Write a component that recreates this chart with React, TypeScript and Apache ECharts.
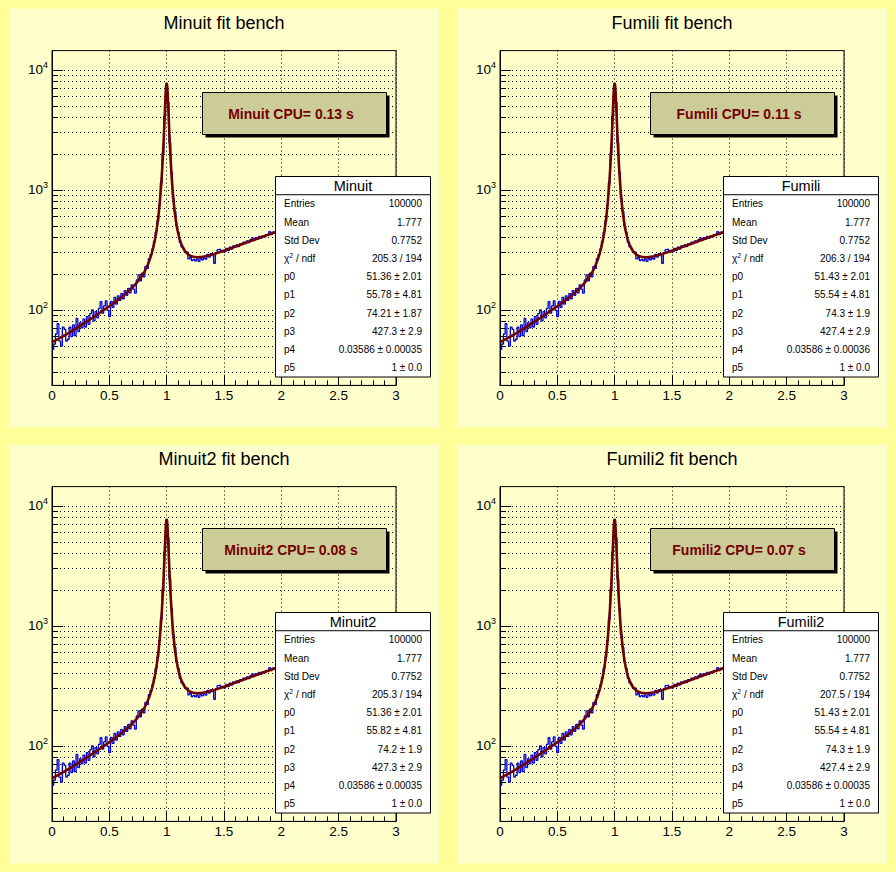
import React, { useEffect, useRef } from 'react';
import * as echarts from 'echarts';

// ---------- data ----------
const FITTERS = ['Minuit', 'Fumili', 'Minuit2', 'Fumili2'];
const CPU_TIMES = [0.13, 0.11, 0.08, 0.07];
const CHI2_NDF = ['205.3 / 194', '206.3 / 194', '205.3 / 194', '207.5 / 194'];
const ENTRIES = 100000;
const MEAN = 1.777;
const STD_DEV = 0.7752;
const PARAMS = [
  [51.36, 55.78, 74.21, 427.3, 0.03586, 1],
  [51.43, 55.54, 74.3, 427.4, 0.03586, 1],
  [51.36, 55.82, 74.2, 427.3, 0.03586, 1],
  [51.43, 55.54, 74.3, 427.4, 0.03586, 1],
];
const PARAM_ERRORS = [
  ['2.01', '4.81', '1.87', '2.9', '0.00035', '0.0'],
  ['2.01', '4.81', '1.9', '2.9', '0.00036', '0.0'],
  ['2.01', '4.81', '1.9', '2.9', '0.00035', '0.0'],
  ['2.01', '4.81', '1.9', '2.9', '0.00035', '0.0'],
];

const HIST_NBINS = 200;
const HIST_XMIN = 0;
const HIST_XMAX = 3;
const HIST_COUNTS = [
  47, 52, 63, 77, 55, 50, 72, 69, 55, 57,
  72, 60, 75, 61, 85, 66, 78, 71, 84, 72,
  88, 76, 93, 100, 81, 97, 86, 103, 117, 94,
  108, 119, 99, 88, 118, 105, 127, 112, 131, 120,
  137, 124, 145, 132, 151, 139, 162, 149, 138, 178,
  196, 175, 203, 189, 230, 222, 268, 290, 322, 372,
  445, 552, 755, 1140, 2010, 4110, 7258, 5390, 2470, 1400,
  850, 662, 500, 440, 366, 335, 326, 303, 305, 266,
  275, 258, 264, 256, 266, 254, 268, 262, 271, 265,
  290, 276, 295, 284, 245, 300, 318, 322, 312, 305,
  305, 326, 312, 333, 322, 341, 332, 349, 337, 357,
  350, 368, 357, 377, 364, 385, 398, 378, 400, 388,
  410, 396, 414, 404, 425, 418, 449, 425, 446, 434,
  455, 447, 461, 470, 462, 481, 476, 489, 495, 488,
  507, 498, 519, 523, 514, 532, 541, 536, 552, 547,
  562, 551, 574, 580, 569, 594, 588, 604, 598, 617,
  610, 631, 625, 643, 637, 655, 649, 668, 659, 681,
  688, 679, 701, 694, 716, 709, 726, 718, 741, 735,
  752, 741, 768, 761, 783, 776, 795, 788, 810, 803,
  824, 811, 839, 833, 852, 845, 869, 861, 884, 877,
];

const X_MIN = 0;
const X_MAX = 3;
const X_INTERVAL = 0.5;
const Y_MIN = 23.5;
const Y_MAX = 14506;
const Y_MAJOR = [100, 1000, 10000];
const Y_MINOR = [30, 40, 50, 60, 70, 80, 90, 200, 300, 400, 500, 600, 700, 800, 900,
  2000, 3000, 4000, 5000, 6000, 7000, 8000, 9000];

// ---------- style ----------
const FONT = "'Liberation Sans', Arial, Helvetica, sans-serif";
const OUTER_BG = '#ffff99';
const PAD_BG = '#ffffcc';
const HIST_COLOR = '#0000e6';
const FIT_COLOR = '#6e0000';
const CPU_FILL = '#cccc99';
const CPU_TEXT = '#740000';
const CURVE_SAMPLES = 1200;

function fitFunction(x: number, p: number[]) {
  const bg = p[0] + p[1] * x + p[2] * x * x;
  const d = x - p[5];
  const peak = (0.5 * p[3] * p[4] / Math.PI) / Math.max(1e-10, d * d + 0.25 * p[4] * p[4]);
  return bg + peak;
}

function buildOption() {
  const grids: any[] = [];
  const xAxes: any[] = [];
  const yAxes: any[] = [];
  const series: any[] = [];
  const graphics: any[] = [];

  const binW = (HIST_XMAX - HIST_XMIN) / HIST_NBINS;
  const histData: number[][] = HIST_COUNTS.map((v, i) => [HIST_XMIN + i * binW, v]);
  histData.push([HIST_XMAX, HIST_COUNTS[HIST_COUNTS.length - 1]]);

  FITTERS.forEach((name, k) => {
    const ox = (k % 2) * 448;
    const oy = Math.floor(k / 2) * 436;

    grids.push({
      left: ox + 52, top: oy + 50.6, width: 344, height: 334.8,
      show: true, backgroundColor: 'transparent', borderColor: '#000', borderWidth: 1,
      containLabel: false, outerBoundsMode: 'none',
    });

    xAxes.push({
      type: 'value', gridIndex: k, min: X_MIN, max: X_MAX, interval: X_INTERVAL,
      axisLine: { show: true, lineStyle: { color: '#000', width: 1 } },
      axisTick: { show: true, inside: true, length: 10, lineStyle: { color: '#000', width: 1 } },
      minorTick: { show: true, splitNumber: 5, length: 5, lineStyle: { color: '#000', width: 1 } },
      axisLabel: { show: true, margin: 3, color: '#000', fontSize: 13.5, fontFamily: FONT },
      splitLine: { show: true, lineStyle: { color: '#000', width: 1, type: [1, 3] } },
      minorSplitLine: { show: false },
    });

    yAxes.push({
      type: 'log', logBase: 10, gridIndex: k, position: 'left', min: Y_MIN, max: Y_MAX,
      axisLine: { show: true, lineStyle: { color: '#000', width: 1 } },
      axisTick: { show: true, inside: true, length: 11, customValues: Y_MAJOR, lineStyle: { color: '#000', width: 1 } },
      axisLabel: {
        show: true, margin: 4, customValues: Y_MAJOR, color: '#000',
        formatter: (v: number) => `{b|10}{s|${Math.round(Math.log10(v))}}`,
        rich: {
          b: { fontSize: 13.5, fontFamily: FONT, color: '#000' },
          s: { fontSize: 9, fontFamily: FONT, color: '#000', padding: [0, 0, 10, 0] },
        },
      },
      splitLine: { show: true, lineStyle: { color: '#000', width: 1, type: [1, 3] } },
      minorTick: { show: false }, minorSplitLine: { show: false },
    });
    yAxes.push({
      type: 'log', logBase: 10, gridIndex: k, position: 'left', min: Y_MIN, max: Y_MAX,
      axisLine: { show: false },
      axisTick: { show: true, inside: true, length: 6, customValues: Y_MINOR, lineStyle: { color: '#000', width: 1 } },
      axisLabel: { show: false },
      splitLine: { show: true, lineStyle: { color: '#000', width: 1, type: [1, 3] } },
      minorTick: { show: false }, minorSplitLine: { show: false },
    });

    series.push({
      type: 'line', name: name + ' histogram', xAxisIndex: k, yAxisIndex: 2 * k,
      data: histData, step: 'end', symbol: 'none', showSymbol: false, silent: true,
      lineStyle: { color: HIST_COLOR, width: 1.3 }, itemStyle: { color: HIST_COLOR }, z: 2,
    });

    const p = PARAMS[k];
    const curve: number[][] = [];
    for (let j = 0; j <= CURVE_SAMPLES; j++) {
      const x = X_MIN + (X_MAX - X_MIN) * j / CURVE_SAMPLES;
      curve.push([x, fitFunction(x, p)]);
    }
    series.push({
      type: 'line', name: name + ' fit', xAxisIndex: k, yAxisIndex: 2 * k,
      data: curve, symbol: 'none', showSymbol: false, silent: true, smooth: false,
      lineStyle: { color: FIT_COLOR, width: 2.6 }, itemStyle: { color: FIT_COLOR }, z: 3,
    });

    // pad background
    graphics.push({
      type: 'rect', z: -1, silent: true,
      shape: { x: ox + 9, y: oy + 8.7, width: 430, height: 418.6 },
      style: { fill: PAD_BG },
    });
    // title
    graphics.push({
      type: 'text', z: 50, silent: true, x: ox + 224, y: oy + 22.7,
      style: {
        text: `${name} fit bench`, fill: '#000', fontSize: 18, fontFamily: FONT,
        align: 'center', verticalAlign: 'middle', textAlign: 'center', textVerticalAlign: 'middle',
      },
    });
    // CPU label with shadow
    graphics.push({
      type: 'rect', z: 50, silent: true,
      shape: { x: ox + 205.5, y: oy + 95.5, width: 184, height: 42 },
      style: { fill: '#000' },
    });
    graphics.push({
      type: 'rect', z: 51, silent: true,
      shape: { x: ox + 202.5, y: oy + 92.5, width: 184, height: 42 },
      style: { fill: CPU_FILL, stroke: '#000', lineWidth: 1 },
    });
    graphics.push({
      type: 'text', z: 52, silent: true, x: ox + 291, y: oy + 113.5,
      style: {
        text: `${name} CPU= ${CPU_TIMES[k]} s`, fill: CPU_TEXT, fontSize: 14, fontWeight: 'bold', fontFamily: FONT,
        align: 'center', verticalAlign: 'middle', textAlign: 'center', textVerticalAlign: 'middle',
      },
    });
    // stats box
    const sx = ox + 275.5, sy = oy + 176.5, sw = 155, sh = 200.5;
    const rowH = sh / 11;
    graphics.push({
      type: 'rect', z: 50, silent: true,
      shape: { x: sx, y: sy, width: sw, height: sh },
      style: { fill: '#fff', stroke: '#000', lineWidth: 1 },
    });
    graphics.push({
      type: 'line', z: 51, silent: true,
      shape: { x1: sx, y1: sy + rowH, x2: sx + sw, y2: sy + rowH },
      style: { stroke: '#000', lineWidth: 1 },
    });
    graphics.push({
      type: 'text', z: 52, silent: true, x: sx + sw / 2, y: sy + rowH / 2 + 0.3,
      style: {
        text: name, fill: '#000', fontSize: 14.5, fontFamily: FONT,
        align: 'center', verticalAlign: 'middle', textAlign: 'center', textVerticalAlign: 'middle',
      },
    });
    const labels = ['Entries', 'Mean', 'Std Dev', '{c|χ}{s|2}{c| / ndf}', 'p0', 'p1', 'p2', 'p3', 'p4', 'p5'];
    const values = [String(ENTRIES), String(MEAN), String(STD_DEV), CHI2_NDF[k],
      ...p.map((v, i) => `${v} ± ${PARAM_ERRORS[k][i]}`)];
    labels.forEach((lab, r) => {
      const cy = sy + rowH * (r + 1.5);
      graphics.push({
        type: 'text', z: 52, silent: true, x: sx + 8.5, y: cy,
        style: {
          text: lab, fill: '#000', fontSize: 10, fontFamily: FONT,
          align: 'left', verticalAlign: 'middle', textAlign: 'left', textVerticalAlign: 'middle',
          rich: {
            c: { fontSize: 10, fontFamily: FONT, fill: '#000', color: '#000' },
            s: { fontSize: 7, fontFamily: FONT, fill: '#000', color: '#000', padding: [0, 0, 7, 0] },
          },
        },
      });
      graphics.push({
        type: 'text', z: 52, silent: true, x: sx + sw - 8.5, y: cy,
        style: {
          text: values[r], fill: '#000', fontSize: 10, fontFamily: FONT,
          align: 'right', verticalAlign: 'middle', textAlign: 'right', textVerticalAlign: 'middle',
        },
      });
    });
  });

  return {
    animation: false,
    backgroundColor: OUTER_BG,
    textStyle: { fontFamily: FONT },
    grid: grids,
    xAxis: xAxes,
    yAxis: yAxes,
    series,
    graphic: { elements: graphics },
  };
}

export default function App() {
  const ref = useRef<HTMLDivElement>(null);
  useEffect(() => {
    document.body.style.margin = '0';
    if (!ref.current) return;
    const chart = echarts.init(ref.current, undefined, { renderer: 'svg', width: 896, height: 872 });
    chart.setOption(buildOption() as any);
    return () => chart.dispose();
  }, []);
  return <div ref={ref} style={{ position: 'absolute', left: 0, top: 0, width: 896, height: 872 }} />;
}
